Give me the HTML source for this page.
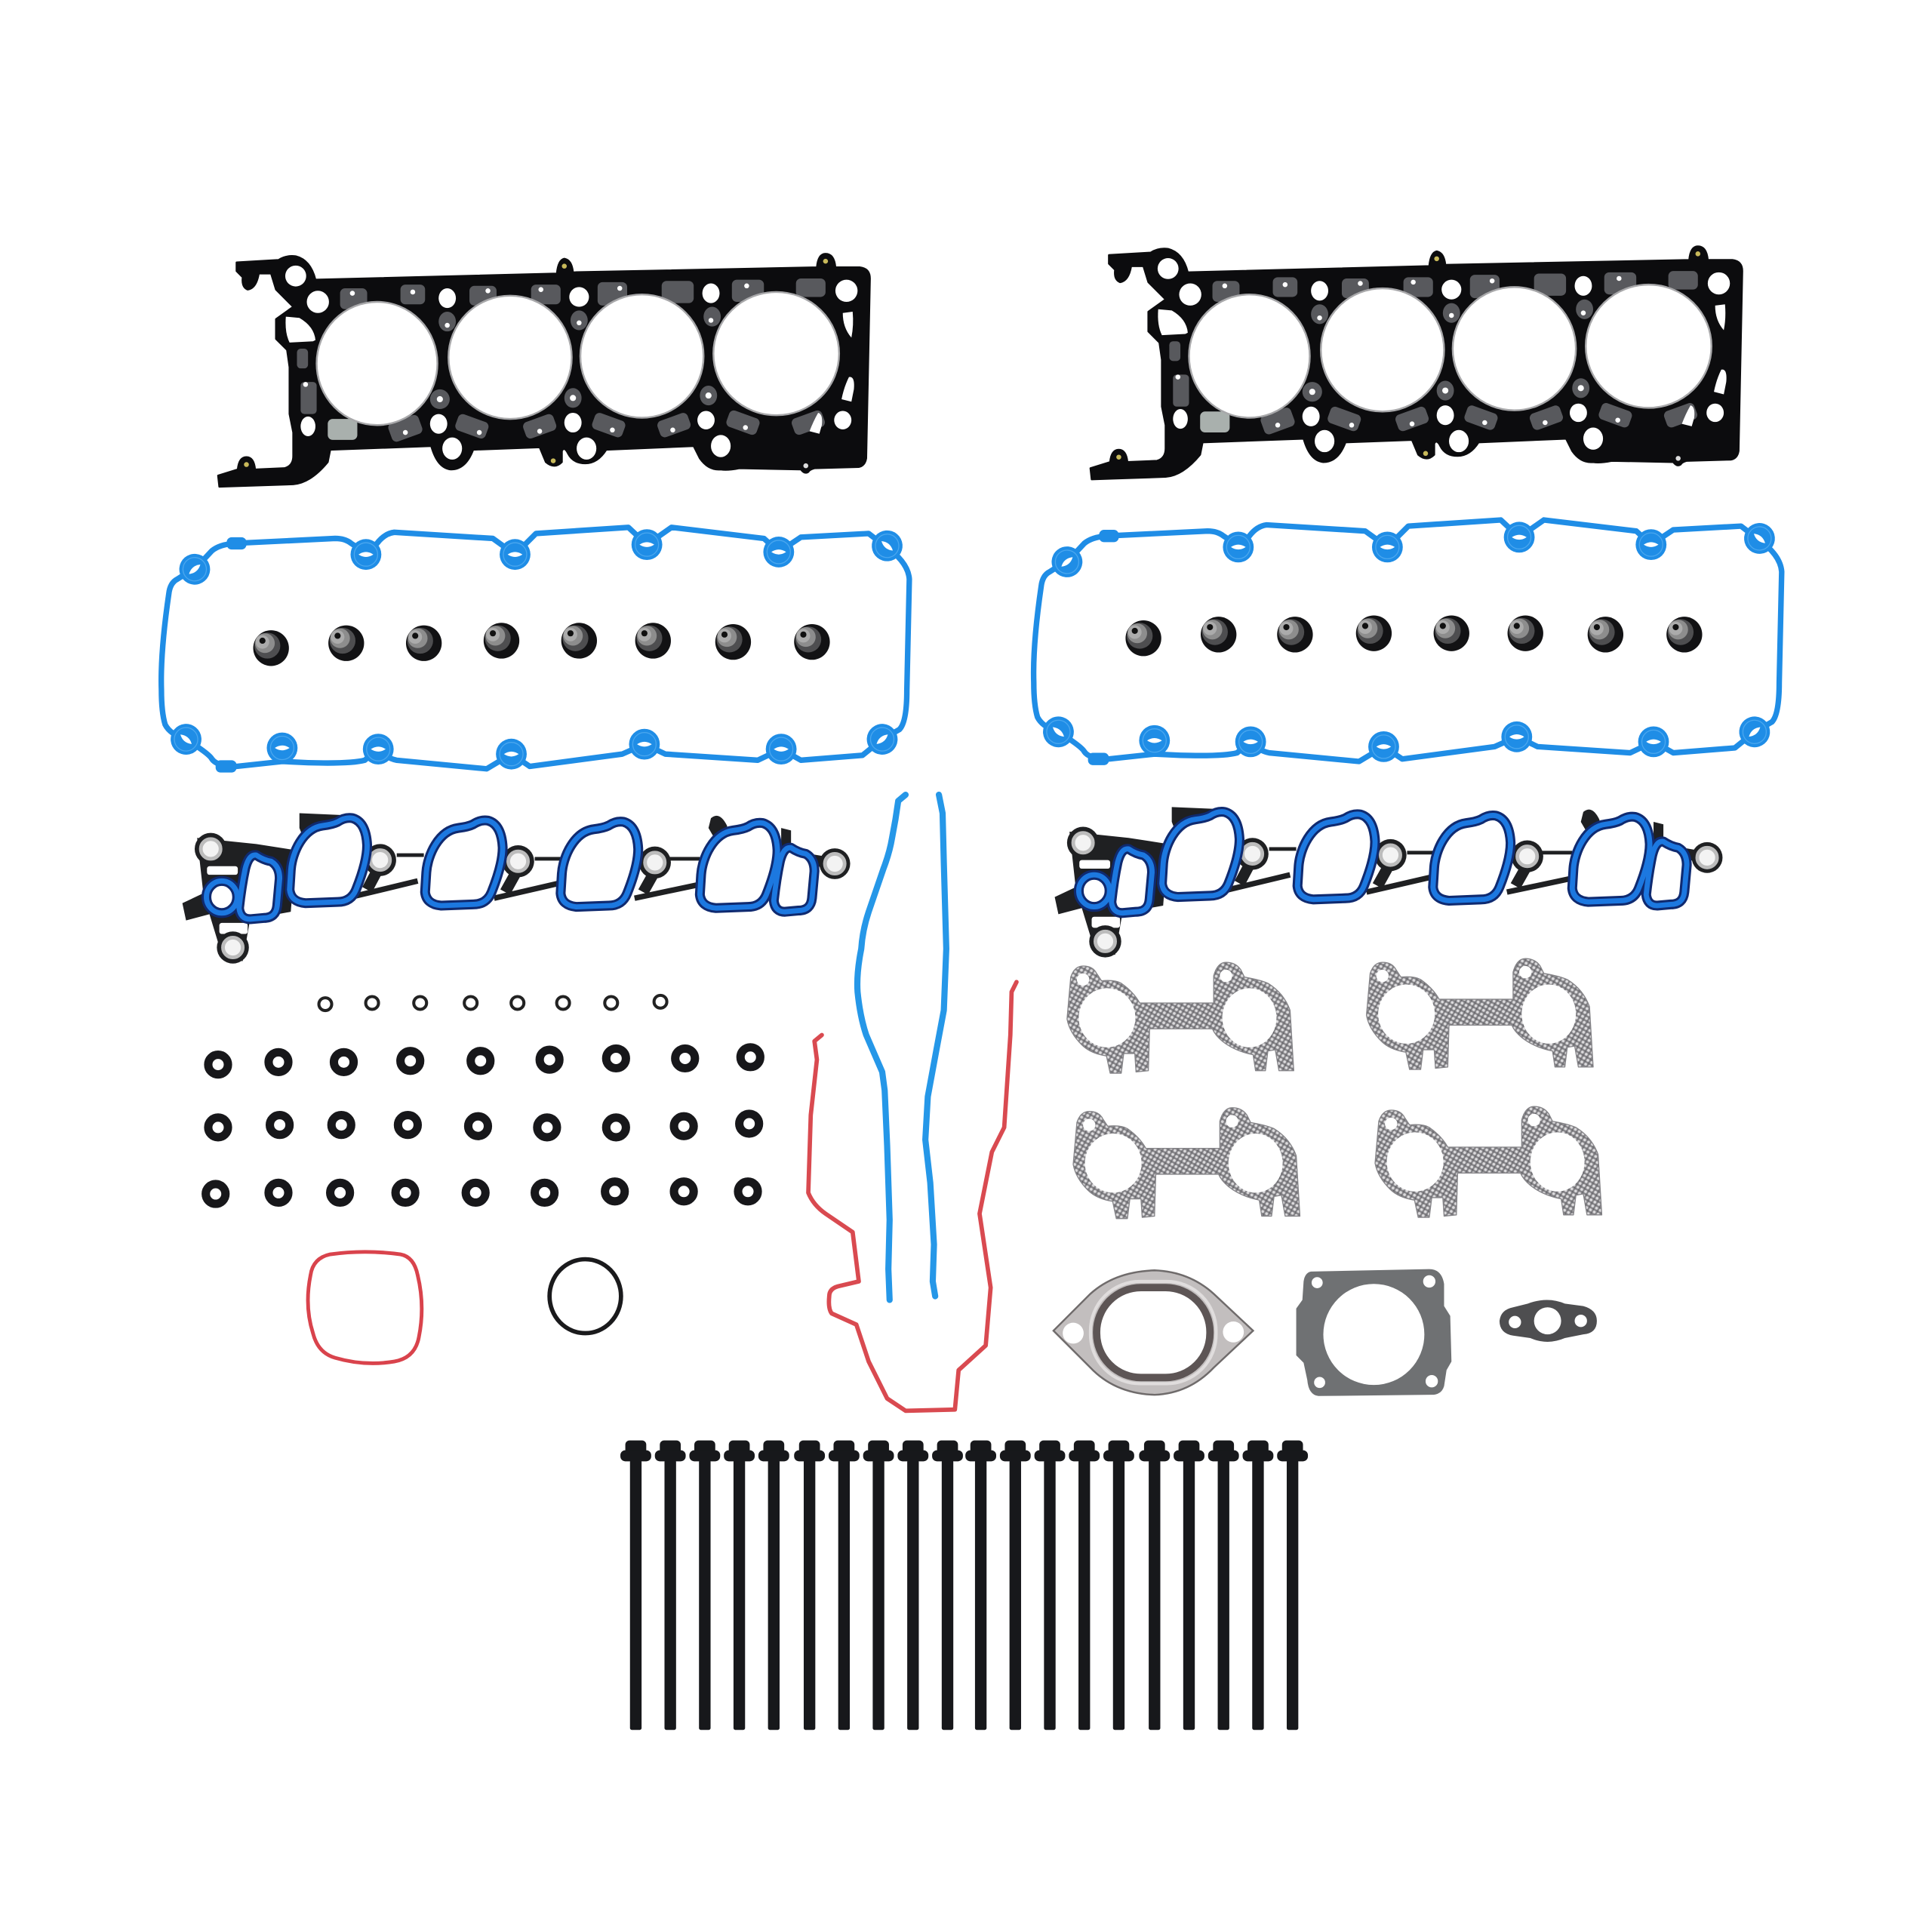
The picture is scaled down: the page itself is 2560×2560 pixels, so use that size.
<!DOCTYPE html>
<html><head><meta charset="utf-8"><style>html,body{margin:0;padding:0;background:#fff}svg{display:block}</style></head><body>
<svg xmlns="http://www.w3.org/2000/svg" width="2560" height="2560" viewBox="0 0 1568 1568">
<defs>
<pattern id="perf" width="3.6" height="3.6" patternUnits="userSpaceOnUse" patternTransform="rotate(30)">
<rect width="3.6" height="3.6" fill="#858488"/><circle cx="1.8" cy="1.8" r="1.15" fill="#dcdbdd"/><circle cx="0" cy="0" r=".7" fill="#505055"/><circle cx="3.6" cy="3.6" r=".7" fill="#505055"/>
</pattern>
<g id="head">
<path fill="#0c0c0e" stroke="#0c0c0e" stroke-width="1.5" stroke-linejoin="round" d="M192,213 L226,211 Q232,207 240,208 Q252,211 256,227 L452,222 Q453,211 458,210 Q464,211 465,221 L663,217 Q664,206 670,206 Q677,206 678,217 L698,217 Q706,218 706,226 L703,372 Q702,378 697,379 L661,380 Q657,381 656,383 Q653,385 650,381 L600,380 Q590,382 585,381 Q575,382 568,372 L563,362 L492,365 Q485,376 475,376 Q465,376 461,368 Q458,362 456,366 L456,375 Q450,381 443,375 L438,363 L384,365 Q378,381 366,381 Q355,380 350,362 L268,365 L266,375 Q252,392 238,393 L178,395 L177,386 L193,381 Q194,371 200,371 Q206,371 207,381 L231,380 Q238,378 238,370 L238,351 L235,336 L235,298 L233,284 L224,275 L224,259 L238,249 L224,235 L220,222 L210,222 Q208,234 201,235 Q196,233 197,225 L192,220 Z"/>
<g fill="#58595d">
<rect x="276" y="234" width="22" height="17" rx="4"/><rect x="325" y="231" width="20" height="16" rx="4"/><rect x="381" y="232" width="22" height="16" rx="4"/><rect x="431" y="231" width="24" height="16" rx="4"/><rect x="485" y="229" width="24" height="19" rx="4"/><rect x="537" y="228" width="26" height="18" rx="4"/><rect x="594" y="227" width="26" height="18" rx="4"/><rect x="646" y="226" width="24" height="15" rx="4"/>
<ellipse cx="363" cy="261" rx="7" ry="8"/><ellipse cx="470" cy="260" rx="7" ry="8"/><ellipse cx="578" cy="257" rx="7" ry="8"/><rect x="241" y="283" width="9" height="16" rx="3"/><rect x="244" y="310" width="13" height="26" rx="3"/><ellipse cx="357" cy="324" rx="8" ry="8"/><ellipse cx="465" cy="323" rx="7" ry="8"/><ellipse cx="575" cy="321" rx="7" ry="8"/>
<rect x="316" y="340" width="26" height="16" rx="4" transform="rotate(-20 328 348)"/><rect x="370" y="339" width="26" height="14" rx="4" transform="rotate(20 383 346)"/><rect x="425" y="339" width="26" height="14" rx="4" transform="rotate(-20 438 346)"/><rect x="481" y="338" width="26" height="14" rx="4" transform="rotate(20 494 345)"/><rect x="534" y="338" width="26" height="14" rx="4" transform="rotate(-20 547 345)"/><rect x="590" y="336" width="26" height="14" rx="4" transform="rotate(20 603 343)"/><rect x="643" y="336" width="26" height="14" rx="4" transform="rotate(-20 656 343)"/>
</g>
<rect x="266" y="340" width="24" height="17" rx="4" fill="#a9b0ad"/>
<g fill="#fff">
<circle cx="240" cy="224" r="8.5"/><circle cx="258" cy="245" r="9"/><path d="M232,257 L243,258 Q255,265 256,276 L254,277 L235,278 Q231,270 232,257 Z"/>
<ellipse cx="363" cy="242" rx="7" ry="8"/><ellipse cx="470" cy="241" rx="8" ry="8"/><ellipse cx="577" cy="238" rx="7" ry="8"/><ellipse cx="687" cy="236" rx="9" ry="9"/>
<ellipse cx="250" cy="346" rx="6" ry="8"/><ellipse cx="356" cy="344" rx="7" ry="8"/><ellipse cx="465" cy="343" rx="7" ry="8"/><ellipse cx="573" cy="341" rx="7" ry="7.5"/><ellipse cx="684" cy="341" rx="7" ry="7.5"/>
<ellipse cx="367" cy="364" rx="8" ry="9"/><ellipse cx="476" cy="364" rx="8" ry="9"/><ellipse cx="585" cy="362" rx="8" ry="9"/>
<path d="M684,254 L692,253 Q693,264 691,274 Q684,266 684,254 Z"/><path d="M689,306 Q694,305 693,316 L691,326 L683,324 Q685,314 689,306 Z"/><path d="M664,335 Q668,336 667,345 L665,352 L657,350 Q660,342 664,335 Z"/>
<circle cx="286" cy="238" r="2"/><circle cx="335" cy="237" r="2"/><circle cx="396" cy="236" r="2"/><circle cx="439" cy="235" r="2"/><circle cx="503" cy="234" r="2"/><circle cx="606" cy="232" r="2"/><circle cx="363" cy="264" r="2"/><circle cx="470" cy="262" r="2"/><circle cx="577" cy="260" r="2"/><circle cx="357" cy="324" r="2.5"/><circle cx="465" cy="323" r="2.5"/><circle cx="575" cy="321" r="2.5"/><circle cx="248" cy="312" r="2"/><circle cx="329" cy="351" r="2"/><circle cx="389" cy="351" r="2"/><circle cx="438" cy="350" r="2"/><circle cx="497" cy="349" r="2"/><circle cx="546" cy="349" r="2"/><circle cx="605" cy="347" r="2"/>
</g>
<circle cx="458" cy="216" r="2" fill="#c8b95a"/><circle cx="670" cy="212" r="2" fill="#c8b95a"/><circle cx="200" cy="377" r="2" fill="#c8b95a"/><circle cx="449" cy="374" r="2" fill="#c8b95a"/><circle cx="654" cy="378" r="2" fill="#ddd"/>
<g fill="#fff" stroke="#a8a8aa" stroke-width="1.5">
<ellipse cx="306" cy="295" rx="49" ry="50"/><ellipse cx="414" cy="290" rx="50" ry="50"/><ellipse cx="521" cy="289" rx="50" ry="50"/><ellipse cx="630" cy="287" rx="51" ry="50"/>
</g>
</g>
<g id="lobe"><circle r="12.5" fill="#1f8de6"/><path d="M-6,0 Q0,-4 6,0 Q0,4 -6,0 Z" fill="#fff"/><circle r="9.5" fill="none" stroke="#4aa7ef" stroke-width=".8"/></g>
<g id="cover">
<path fill="none" stroke="#1f8de6" stroke-width="4.5" stroke-linejoin="round" d="M158,462 Q150,466 144,470 Q138,473 137,482 Q130,530 131,560 Q131,578 134,588 Q138,596 151,600 Q170,612 172,616 Q176,622 192,622 L229,618 L250,619 Q285,620 296,617 Q304,610 308,610 Q316,616 322,617 L395,624 L415,612 L430,622 L505,612 L523,604 L540,612 L615,617 L634,608 L650,617 L700,613 L716,600 L730,592 Q736,586 736,560 L738,470 Q737,456 718,443 L705,433 L650,436 L632,448 L620,437 L545,428 L525,442 L510,428 L435,433 L418,450 L400,437 L320,432 Q312,433 306,441 L297,449 L285,441 Q280,437 272,437 L190,441 Q178,442 172,447 Z"/>
<use href="#lobe" x="158" y="462" transform="rotate(-40 158 462)"/><use href="#lobe" x="297" y="450"/><use href="#lobe" x="418" y="450"/><use href="#lobe" x="525" y="442"/><use href="#lobe" x="632" y="448"/><use href="#lobe" x="720" y="443" transform="rotate(40 720 443)"/>
<use href="#lobe" x="151" y="600" transform="rotate(40 151 600)"/><use href="#lobe" x="229" y="607"/><use href="#lobe" x="307" y="608"/><use href="#lobe" x="415" y="612"/><use href="#lobe" x="523" y="604"/><use href="#lobe" x="634" y="608"/><use href="#lobe" x="716" y="600" transform="rotate(-40 716 600)"/>
<rect x="184" y="436" width="16" height="10" rx="4" fill="#1f8de6"/><rect x="175" y="617" width="17" height="10" rx="4" fill="#1f8de6"/>
</g>
<g id="seal"><circle cx="0" cy="0" r="14.5" fill="#121214"/><circle cx="-3" cy="-2" r="10.5" fill="#4e4e50"/><circle cx="-5" cy="-4" r="8" fill="#8d8d8d"/><circle cx="-7" cy="-5" r="5.5" fill="#ababab"/><circle cx="-7" cy="-6" r="2.5" fill="#111"/></g>
<path id="port" d="M-32,6 C-31,-8 -22,-28 -6,-30 Q2,-31 6,-33 Q12,-37 18,-36 Q29,-33 30,-14 C30,-2 25,12 21,22 Q17,32 6,32 L-20,33 Q-32,32 -33,22 Z"/>
<path id="smallport" d="M-13,-14 Q-10,-26 -4,-25 Q2,-21 8,-20 Q15,-16 15,-6 L13,16 Q12,26 2,26 L-9,27 Q-17,27 -18,18 Q-16,0 -13,-14 Z"/>
<g id="intake">
<path fill="#1f2022" d="M160,680 L208,685 L240,690 L236,740 L203,746 L197,780 L181,778 L170,742 L151,747 L148,733 L165,725 Z"/>
<rect x="168" y="703" width="25" height="7" rx="2" fill="#fff"/><rect x="178" y="749" width="23" height="9" rx="2" fill="#fff"/>
<path fill="#1f2022" d="M243,660 L290,662 L285,680 L250,690 L243,672 Z M577,664 Q584,658 590,670 L592,680 L582,684 L575,672 Z M634,672 L642,674 L642,690 L634,690 Z"/>
<g fill="none" stroke="#1f2022">
<path stroke-width="3" d="M322,694 L344,694 M434,697 L456,697 M542,697 L568,697"/>
<path stroke-width="4.5" d="M285,728 L339,715 M401,729 L453,717 M515,729 L567,718"/>
<path stroke-width="9" d="M307,705 L298,722 M420,706 L410,724 M531,708 L522,724 M660,698 L672,700"/>
</g>
<g fill="#1f2022"><circle cx="171" cy="689" r="13"/><circle cx="308.500" cy="698" r="13"/><circle cx="420.500" cy="699" r="13"/><circle cx="531.500" cy="700" r="13"/><circle cx="677.500" cy="701" r="12.500"/><circle cx="189" cy="769" r="13"/></g>
<g fill="#f3f3f3" stroke="#bcbcbc" stroke-width="3"><circle cx="171" cy="689" r="8"/><circle cx="308.500" cy="698" r="8"/><circle cx="420.500" cy="699" r="8"/><circle cx="531.500" cy="700" r="8"/><circle cx="677.500" cy="701" r="8"/><circle cx="189" cy="769" r="8"/></g>
<g fill="#fff" stroke="#0f2a70" stroke-width="8" stroke-linejoin="round">
<use href="#port" x="268" y="700"/><use href="#port" x="378" y="702"/><use href="#port" x="488" y="703"/><use href="#port" x="601" y="704"/><use href="#smallport" x="212" y="719"/><use href="#smallport" x="646" y="713"/><ellipse cx="180" cy="728" rx="12.500" ry="13"/>
</g>
<g fill="none" stroke="#1c78e0" stroke-width="4.200" stroke-linejoin="round">
<use href="#port" x="268" y="700"/><use href="#port" x="378" y="702"/><use href="#port" x="488" y="703"/><use href="#port" x="601" y="704"/><use href="#smallport" x="212" y="719"/><use href="#smallport" x="646" y="713"/><ellipse cx="180" cy="728" rx="12.500" ry="13"/>
</g>
</g>
<g id="exh">
<path fill="url(#perf)" stroke="#858488" stroke-width=".8" stroke-linejoin="round" d="M869,793 Q872,784 879,784 Q887,784 890,790 L894,796 Q905,795 910,798 Q920,805 925,814 L985,814 L985,792 Q988,781 995,781 Q1003,781 1007,787 L1010,793 Q1022,795 1029,798 Q1042,806 1047,820 L1050,869 L1038,869 L1035,852 L1029,853 L1027,869 L1019,869 L1017,856 Q1002,853 992,845 Q986,840 984,835 L933,835 L932,869 L922,870 L921,855 L912,855 L910,871 L901,871 L898,857 Q885,855 878,848 Q868,838 866,827 Z"/>
<ellipse cx="898.500" cy="826" rx="23" ry="24" fill="#fff"/><ellipse cx="1014" cy="826" rx="22" ry="24" fill="#fff"/><circle cx="879" cy="795" r="5" fill="#fff"/><circle cx="995" cy="792" r="5" fill="#fff"/>
</g>
<g id="bolt" fill="#17181b"><rect x="-8.500" y="1169" width="17" height="11" rx="3.500"/><rect x="-12.500" y="1177" width="25" height="9" rx="4"/><rect x="-4.700" y="1185" width="9.400" height="219" rx="1.500"/></g>
<g id="grom"><circle r="8" fill="#fff" stroke="#17171a" stroke-width="6.800"/></g>
</defs>
<rect width="1568" height="1568" fill="#fff"/>
<use href="#head"/><use href="#head" x="708" y="-6"/>
<use href="#cover"/><use href="#cover" x="708" y="-6"/>
<g>
<use href="#seal" x="220" y="526"/><use href="#seal" x="281" y="522"/><use href="#seal" x="344" y="522"/><use href="#seal" x="407" y="520"/><use href="#seal" x="470" y="520"/><use href="#seal" x="530" y="520"/><use href="#seal" x="595" y="521"/><use href="#seal" x="659" y="521"/>
<use href="#seal" x="928" y="518"/><use href="#seal" x="989" y="515"/><use href="#seal" x="1051" y="515"/><use href="#seal" x="1115" y="514"/><use href="#seal" x="1178" y="514"/><use href="#seal" x="1238" y="514"/><use href="#seal" x="1303" y="515"/><use href="#seal" x="1367" y="515"/>
</g>
<use href="#intake"/><use href="#intake" x="708" y="-5"/>
<g fill="#fff" stroke="#222" stroke-width="2.500">
<circle cx="264" cy="815" r="5.200"/><circle cx="302" cy="814" r="5.200"/><circle cx="341" cy="814" r="5.200"/><circle cx="382" cy="814" r="5.200"/><circle cx="420" cy="814" r="5.200"/><circle cx="457" cy="814" r="5.200"/><circle cx="496" cy="814" r="5.200"/><circle cx="536" cy="813" r="5.200"/>
</g>
<g>
<use href="#grom" x="177" y="864"/><use href="#grom" x="226" y="862"/><use href="#grom" x="279" y="862"/><use href="#grom" x="333" y="861"/><use href="#grom" x="390" y="861"/><use href="#grom" x="446" y="860"/><use href="#grom" x="500" y="859"/><use href="#grom" x="556" y="859"/><use href="#grom" x="609" y="858"/>
<use href="#grom" x="177" y="915"/><use href="#grom" x="227" y="913"/><use href="#grom" x="277" y="913"/><use href="#grom" x="331" y="913"/><use href="#grom" x="388" y="914"/><use href="#grom" x="444" y="915"/><use href="#grom" x="500" y="915"/><use href="#grom" x="555" y="914"/><use href="#grom" x="608" y="912"/>
<use href="#grom" x="175" y="969"/><use href="#grom" x="226" y="968"/><use href="#grom" x="276" y="968"/><use href="#grom" x="329" y="968"/><use href="#grom" x="386" y="968"/><use href="#grom" x="442" y="968"/><use href="#grom" x="499" y="967"/><use href="#grom" x="555" y="967"/><use href="#grom" x="607" y="967"/>
</g>
<path fill="none" stroke="#d9434c" stroke-width="3" d="M268,1018 Q296,1014 325,1018 Q336,1020 339,1035 Q345,1060 340,1085 Q337,1102 320,1105 Q296,1109 272,1102 Q258,1098 254,1082 Q247,1060 252,1035 Q254,1021 268,1018 Z"/>
<ellipse cx="475" cy="1052" rx="29" ry="30" fill="none" stroke="#1a1a1c" stroke-width="3.500"/>
<g fill="none" stroke="#2597e8" stroke-width="5" stroke-linejoin="round" stroke-linecap="round">
<path d="M735,645 L729,650 Q727,665 724,680 Q722,692 717,705 L705,740 Q700,755 699,770 Q695,790 696,805 Q698,825 703,840 L716,870 L718,885 L720,930 L722,990 L721,1030 L722,1055"/>
<path d="M762,645 L765,660 L766,700 L768,770 L766,820 L760,852 L753,890 L751,925 L755,960 L758,1010 L757,1040 L759,1052"/>
</g>
<path fill="none" stroke="#d94a50" stroke-width="3.500" stroke-linejoin="round" stroke-linecap="round" d="M667,840 L661,845 L663,860 L658,905 L656,968 Q660,978 670,985 L692,1000 L697,1040 L680,1044 Q673,1046 673,1052 Q672,1062 675,1066 L695,1075 Q700,1090 705,1105 L720,1135 L735,1145 L775,1144 L778,1112 L800,1092 L804,1045 L795,985 L805,935 L815,915 L820,840 L821,805 L825,797"/>
<use href="#exh"/><use href="#exh" x="243" y="-3"/><use href="#exh" x="5" y="118"/><use href="#exh" x="250" y="117"/>
<path fill="#c2bebe" stroke="#6f6b6b" stroke-width="1.500" d="M855,1080 L885,1050 Q905,1032 937,1031 Q965,1032 985,1050 L1017,1080 L985,1110 Q965,1131 937,1132 Q905,1131 885,1110 Z"/>
<rect x="890" y="1045" width="92" height="73" rx="36" fill="#fff" stroke="#5d5555" stroke-width="6"/>
<rect x="885" y="1040" width="102" height="83" rx="40" fill="none" stroke="#e0dddd" stroke-width="2.500"/>
<circle cx="871" cy="1082" r="8.500" fill="#fff"/><circle cx="1001" cy="1081" r="8.500" fill="#fff"/>
<path fill="#6f7173" d="M1064,1032 L1160,1030 Q1170,1030 1172,1042 L1172,1060 L1177,1068 L1178,1105 L1174,1112 L1172,1125 Q1170,1132 1162,1132 L1070,1133 Q1062,1132 1061,1120 L1058,1106 L1052,1100 L1052,1062 L1057,1055 L1058,1040 Q1059,1033 1064,1032 Z"/>
<ellipse cx="1115" cy="1083" rx="41" ry="41" fill="#fff"/>
<circle cx="1069" cy="1041" r="4.500" fill="#fff"/><circle cx="1160" cy="1040" r="5" fill="#fff"/><circle cx="1071" cy="1122" r="4.500" fill="#fff"/><circle cx="1162" cy="1121" r="5" fill="#fff"/>
<path fill="#4e4e50" d="M1217,1072 Q1218,1063 1228,1061 L1240,1058 Q1256,1052 1270,1058 L1285,1060 Q1296,1063 1296,1072 Q1296,1082 1285,1083 L1270,1086 Q1256,1092 1242,1086 L1228,1084 Q1217,1082 1217,1072 Z"/>
<ellipse cx="1256" cy="1072" rx="11" ry="11" fill="#fff"/><circle cx="1229.500" cy="1073" r="5" fill="#fff"/><circle cx="1283" cy="1072" r="5" fill="#fff"/>
<g>
<use href="#bolt" x="516"/><use href="#bolt" x="544"/><use href="#bolt" x="572"/><use href="#bolt" x="600"/><use href="#bolt" x="628"/><use href="#bolt" x="657"/><use href="#bolt" x="685"/><use href="#bolt" x="713"/><use href="#bolt" x="741"/><use href="#bolt" x="769"/><use href="#bolt" x="796"/><use href="#bolt" x="824"/><use href="#bolt" x="852"/><use href="#bolt" x="880"/><use href="#bolt" x="908"/><use href="#bolt" x="937"/><use href="#bolt" x="965"/><use href="#bolt" x="993"/><use href="#bolt" x="1021"/><use href="#bolt" x="1049"/>
</g>
</svg>
</body></html>
